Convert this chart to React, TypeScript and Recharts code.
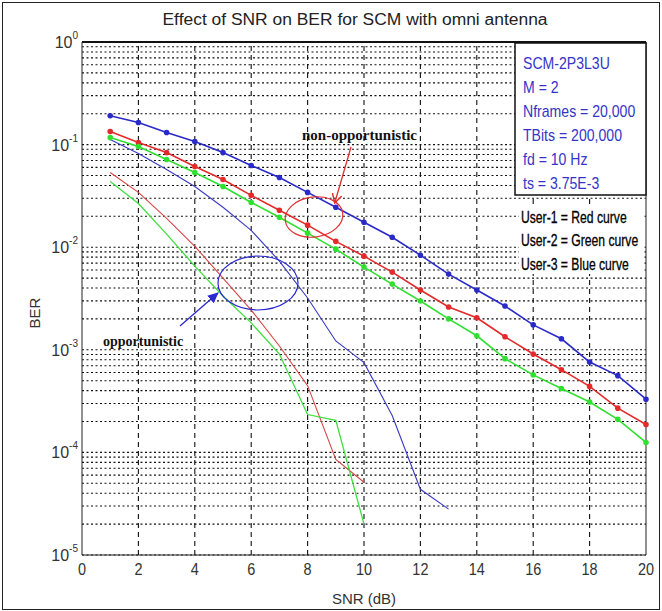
import React from "react";
import { LineChart, Line, XAxis, YAxis, ReferenceLine } from "recharts";

// SNR in dB, one point per integer step
const snr = [1, 2, 3, 4, 5, 6, 7, 8, 9, 10, 11, 12, 13, 14, 15, 16, 17, 18, 19, 20];

// non-opportunistic (with markers)
const user1Non = [0.134, 0.105, 0.0836, 0.0611, 0.0457, 0.032, 0.0229, 0.0164, 0.0114, 0.00818, 0.00572, 0.00383, 0.00261, 0.00205, 0.00134, 0.00091, 0.00064, 0.00044, 0.00027, 0.000187];
const user2Non = [0.117, 0.0957, 0.0715, 0.0535, 0.0391, 0.0273, 0.0196, 0.0137, 0.00957, 0.0064, 0.00437, 0.00299, 0.002, 0.00137, 0.00082, 0.00057, 0.00042, 0.00031, 0.00021, 0.000125];
const user3Non = [0.191, 0.164, 0.131, 0.107, 0.0836, 0.0625, 0.0478, 0.0342, 0.0245, 0.0175, 0.0125, 0.00836, 0.00547, 0.00383, 0.00267, 0.00175, 0.00128, 0.00076, 0.00056, 0.00033];

// opportunistic (plain lines, stop early)
const user1Opp = [0.0535, 0.0342, 0.0191, 0.0102, 0.005, 0.00244, 0.00109, 0.000447, 0.0000855, 0.0000512];
const user2Opp = [0.0437, 0.0267, 0.0134, 0.00654, 0.00334, 0.00183, 0.00091, 0.000234, 0.000205, 0.00002];
const user3Opp = [0.112, 0.0818, 0.0572, 0.0391, 0.0245, 0.0146, 0.0073, 0.0032, 0.00122, 0.00075, 0.000229, 0.0000437, 0.000028];

const xTicks = [0, 2, 4, 6, 8, 10, 12, 14, 16, 18, 20];
const yTicks = [1e-5, 1e-4, 1e-3, 1e-2, 1e-1, 1];
const vGrid = [2, 4, 6, 8, 10, 12, 14, 16, 18];

const infoLines = ["SCM-2P3L3U", "M = 2", "Nframes = 20,000", "TBits = 200,000", "fd = 10 Hz", "ts = 3.75E-3"];
const userLines = ["User-1 = Red curve", "User-2 = Green curve", "User-3 = Blue curve"];

const toRows = (vals: number[]) => vals.map((v, i) => ({ snr: snr[i], ber: v }));

// minor log grid 2..9 x 10^k plus decades
const hGrid: number[] = [];
for (let k = -5; k < 0; k++) {
  for (let m = 1; m <= 9; m++) hGrid.push(Number((m * Math.pow(10, k)).toPrecision(3)));
}

const FONT = "'Liberation Sans', Arial, sans-serif";
const SERIF = "'Liberation Serif', 'Times New Roman', serif";

const YTick = (props: any) => {
  const { x, y, payload } = props;
  const exp = Math.round(Math.log10(payload.value));
  return (
    <text x={x + 4} y={y + 6} textAnchor="end" fontFamily={FONT} fontSize={16} fill="#333">
      10
      <tspan dy={-9} fontSize={10}>{exp}</tspan>
    </text>
  );
};

const XTick = (props: any) => {
  const { x, y, payload } = props;
  return (
    <text x={x} y={y + 12} textAnchor="middle" fontFamily={FONT} fontSize={17} fill="#333" transform={`translate(${x} 0) scale(0.85 1) translate(${-x} 0)`}>
      {payload.value}
    </text>
  );
};

export default function App() {
  return (
    <div style={{ position: "absolute", left: 0, top: 0, width: 662, height: 611, background: "#fff" }}>
      <LineChart width={662} height={611} margin={{ top: 42, right: 16, bottom: 26, left: 0 }}>
        <XAxis
          dataKey="snr"
          type="number"
          domain={[0, 20]}
          ticks={xTicks}
          tickLine={false}
          height={30}
          stroke="#222"
          tick={<XTick />}
          allowDuplicatedCategory={false}
        />
        <YAxis
          type="number"
          scale="log"
          domain={[1e-5, 1]}
          ticks={yTicks}
          allowDataOverflow
          tickLine={false}
          width={82}
          stroke="#222"
          tick={<YTick />}
        />
        {hGrid.map((v) => (
          <ReferenceLine key={"h" + v} y={v} stroke="#111" strokeDasharray="2 2.5" strokeWidth={1.1} />
        ))}
        {vGrid.map((v) => (
          <ReferenceLine key={"v" + v} x={v} stroke="#111" strokeDasharray="5 4" strokeWidth={1.1} />
        ))}
        <ReferenceLine y={1} stroke="#111" strokeWidth={2} />
        <ReferenceLine x={20} stroke="#222" strokeWidth={1} />

        <Line data={toRows(user3Opp)} dataKey="ber" stroke="#3a3ac4" strokeWidth={1.1} dot={false} isAnimationActive={false} />
        <Line data={toRows(user1Opp)} dataKey="ber" stroke="#d94444" strokeWidth={1.1} dot={false} isAnimationActive={false} />
        <Line data={toRows(user2Opp)} dataKey="ber" stroke="#3ee03e" strokeWidth={1.3} dot={false} isAnimationActive={false} />

        <Line data={toRows(user3Non)} dataKey="ber" stroke="#2a2ac8" strokeWidth={1.6} dot={{ r: 2, fill: "#2a2ac8", stroke: "#2a2ac8" }} isAnimationActive={false} />
        <Line data={toRows(user1Non)} dataKey="ber" stroke="#e42a2a" strokeWidth={1.6} dot={{ r: 2, fill: "#e42a2a", stroke: "#e42a2a" }} isAnimationActive={false} />
        <Line data={toRows(user2Non)} dataKey="ber" stroke="#30e030" strokeWidth={1.6} dot={{ r: 2, fill: "#30e030", stroke: "#30e030" }} isAnimationActive={false} />
      </LineChart>

      <svg width={662} height={611} style={{ position: "absolute", left: 0, top: 0, pointerEvents: "none" }}>
        <defs>
          <marker id="redHead" markerWidth="10" markerHeight="10" refX="8" refY="5" orient="auto" markerUnits="userSpaceOnUse">
            <path d="M0,0 L9,5 L0,10" fill="none" stroke="#e03030" strokeWidth={1.5} />
          </marker>
          <marker id="blueHead" markerWidth="12" markerHeight="12" refX="10" refY="6" orient="auto" markerUnits="userSpaceOnUse">
            <path d="M0,1 L11,6 L0,11 Z" fill="#2a2ad0" />
          </marker>
        </defs>

        <text x={355} y={25} textAnchor="middle" fontFamily={FONT} fontSize={16} fill="#222" textLength={385} lengthAdjust="spacingAndGlyphs">
          Effect of SNR on BER for SCM with omni antenna
        </text>
        <text x={364} y={604} textAnchor="middle" fontFamily={FONT} fontSize={15} fill="#333">SNR (dB)</text>
        <text x={40} y={313} textAnchor="middle" fontFamily={FONT} fontSize={15} fill="#333" transform="rotate(-90 40 313)">BER</text>

        <rect x={515} y={43} width={131} height={152} fill="#fff" stroke="#111" strokeWidth={1.5} />
        <g transform="translate(523 0) scale(0.88 1)">
          {infoLines.map((t, i) => (
            <text key={t} x={0} y={69 + i * 24} fontFamily={FONT} fontSize={16} fill="#3434c8">{t}</text>
          ))}
        </g>
        <rect x={519} y={204} width={124} height={70} fill="#fff" />
        <g transform="translate(521 0) scale(0.76 1)">
          {userLines.map((t, i) => (
            <text key={t} x={0} y={223 + i * 23.5} fontFamily={FONT} fontSize={16} fill="#000" stroke="#000" strokeWidth={0.3}>{t}</text>
          ))}
        </g>

        <text x={302} y={140} fontFamily={SERIF} fontWeight="bold" fontSize={15} fill="#111">non-opportunistic</text>
        <line x1={351} y1={147} x2={335} y2={202} stroke="#e03030" strokeWidth={1.3} markerEnd="url(#redHead)" />
        <ellipse cx={314} cy={217} rx={29} ry={20} fill="none" stroke="#e03030" strokeWidth={1.2} transform="rotate(-8 314 217)" />

        <text x={103} y={346} fontFamily={SERIF} fontWeight="bold" fontSize={14} fill="#111">opportunistic</text>
        <line x1={180} y1={326} x2={218} y2={293} stroke="#2a2ad0" strokeWidth={1.3} markerEnd="url(#blueHead)" />
        <ellipse cx={258} cy={283} rx={40} ry={27} fill="none" stroke="#2a2ad0" strokeWidth={1.2} />
      </svg>

      <div style={{ position: "absolute", left: 2, top: 2, width: 656, height: 606, border: "1.5px solid #222", pointerEvents: "none" }} />
    </div>
  );
}
